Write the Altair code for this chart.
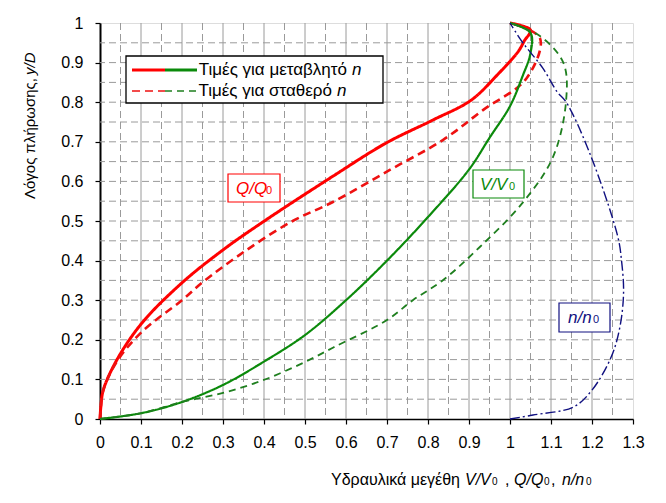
import altair as alt
import pandas as pd

# ---- data ----
q_var_x = [0, 0.002, 0.008, 0.041, 0.102, 0.199, 0.30, 0.398, 0.568, 0.698, 0.812, 0.905, 0.97, 1.02, 1.035, 1.05, 1.0]
q_var_y = [0, 0.03, 0.073, 0.149, 0.242, 0.343, 0.427, 0.498, 0.613, 0.697, 0.755, 0.805, 0.87, 0.928, 0.955, 0.982, 1.0]

q_const_x = [0, 0.002, 0.008, 0.041, 0.102, 0.2, 0.25, 0.358, 0.47, 0.568, 0.707, 0.837, 0.934, 1.04, 1.073, 1.0]
q_const_y = [0, 0.03, 0.073, 0.145, 0.22, 0.30, 0.345, 0.427, 0.50, 0.548, 0.629, 0.705, 0.78, 0.86, 0.962, 1.0]

v_var_x = [0, 0.102, 0.2, 0.3, 0.4, 0.5, 0.6, 0.7, 0.8, 0.9, 0.95, 1.0, 1.03, 1.05, 1.05, 1.0]
v_var_y = [0, 0.015, 0.043, 0.086, 0.145, 0.212, 0.30, 0.40, 0.51, 0.63, 0.71, 0.79, 0.864, 0.924, 0.975, 1.0]

v_const_x = [0, 0.102, 0.2, 0.3, 0.398, 0.5, 0.568, 0.70, 0.763, 0.837, 0.927, 1.03, 1.105, 1.137, 1.13, 1.073, 1.0]
v_const_y = [0, 0.015, 0.043, 0.066, 0.098, 0.144, 0.18, 0.25, 0.30, 0.351, 0.435, 0.545, 0.662, 0.806, 0.9, 0.967, 1.0]

n_x = [1.0, 1.056, 1.154, 1.20, 1.247, 1.268, 1.277, 1.272, 1.263, 1.195, 1.137, 1.115, 1.08, 1.03, 1.0]
n_y = [0, 0.01, 0.03, 0.073, 0.157, 0.232, 0.32, 0.40, 0.46, 0.67, 0.80, 0.826, 0.886, 0.952, 1.0]

x_ticks = [0, 0.1, 0.2, 0.3, 0.4, 0.5, 0.6, 0.7, 0.8, 0.9, 1.0, 1.1, 1.2, 1.3]
y_ticks = [0, 0.1, 0.2, 0.3, 0.4, 0.5, 0.6, 0.7, 0.8, 0.9, 1.0]
x_grid_major = [0.1, 0.2, 0.3, 0.4, 0.5, 0.6, 0.7, 0.8, 0.9, 1.0, 1.1, 1.2]
x_grid_minor = [0.05, 0.15, 0.25, 0.35, 0.45, 0.55, 0.65, 0.75, 0.85, 0.95, 1.05, 1.15, 1.25]
y_grid = [0.05, 0.1, 0.15, 0.2, 0.25, 0.3, 0.35, 0.4, 0.45, 0.5, 0.55, 0.6, 0.65, 0.7, 0.75, 0.8, 0.85, 0.9, 0.95]

series_names = ["Q_var", "Q_const", "V_var", "V_const", "n"]
series_colors = ["#ff0000", "#ee1111", "#0b8a0b", "#1f7f1f", "#101080"]
series_dash = [[1, 0], [8, 5], [1, 0], [7, 5], [10, 3, 2, 3]]
series_width = [3, 1.4, 3, 1.4, 1.4]

FONT = "Liberation Sans"
W, H = 533, 396

rows = []
for name, xs_, ys_ in zip(series_names,
                          [q_var_x, q_const_x, v_var_x, v_const_x, n_x],
                          [q_var_y, q_const_y, v_var_y, v_const_y, n_y]):
    for i, (x, y) in enumerate(zip(xs_, ys_)):
        rows.append({"series": name, "x": x, "y": y, "i": i})
df = pd.DataFrame(rows)

xs = alt.Scale(domain=[0, 1.3], nice=False, zero=False)
ys = alt.Scale(domain=[0, 1], nice=False, zero=False)

x_axis = alt.Axis(values=x_ticks, format="~g", grid=False, title=None, tickSize=5,
                  labelFontSize=16, labelFont=FONT, labelColor="black", labelPadding=10,
                  domainColor="black", domainWidth=1.5, tickColor="black", tickWidth=1.2,
                  labelFlush=False, labelOverlap=False)
y_axis = alt.Axis(values=y_ticks, format="~g", grid=False, title=None, tickSize=5,
                  labelFontSize=16, labelFont=FONT, labelColor="black", labelPadding=12,
                  domainColor="black", domainWidth=2, tickColor="black", tickWidth=1.2,
                  labelFlush=False, labelOverlap=False)

# grid
vmaj = alt.Chart(pd.DataFrame({"g": x_grid_major})).mark_rule(color="#9a9a9a", strokeWidth=1).encode(
    x=alt.X("g:Q", scale=xs, axis=x_axis))
vmin = alt.Chart(pd.DataFrame({"g": x_grid_minor})).mark_rule(color="#9a9a9a", strokeWidth=1, strokeDash=[7, 4]).encode(
    x=alt.X("g:Q", scale=xs, axis=x_axis))
hgrid = alt.Chart(pd.DataFrame({"g": y_grid})).mark_rule(color="#9a9a9a", strokeWidth=1, strokeDash=[7, 4]).encode(
    y=alt.Y("g:Q", scale=ys, axis=y_axis))

lines = alt.Chart(df).mark_line(strokeJoin="round", interpolate="catmull-rom").encode(
    x=alt.X("x:Q", scale=xs, axis=x_axis),
    y=alt.Y("y:Q", scale=ys, axis=y_axis),
    order="i:Q",
    color=alt.Color("series:N", scale=alt.Scale(domain=series_names, range=series_colors), legend=None),
    strokeDash=alt.StrokeDash("series:N", scale=alt.Scale(domain=series_names, range=series_dash), legend=None),
    strokeWidth=alt.StrokeWidth("series:N", scale=alt.Scale(domain=series_names, range=series_width), legend=None),
)

dummy = pd.DataFrame({"a": [0]})


def txt(t, x, y, size=16, color="black", italic=False, align="left", angle=0, baseline="alphabetic"):
    kw = dict(text=t, fontSize=size, font=FONT, color=color, align=align, baseline=baseline)
    if italic:
        kw["fontStyle"] = "italic"
    if angle:
        kw["angle"] = angle
    return alt.Chart(dummy).mark_text(**kw).encode(x=alt.value(x), y=alt.value(y))


def box(x1, y1, x2, y2, color, width=1.2):
    return alt.Chart(dummy).mark_rect(fill="white", stroke=color, strokeWidth=width).encode(
        x=alt.value(x1), x2=alt.value(x2), y=alt.value(y1), y2=alt.value(y2))


def seg(x1, x2, y, color, dash=None, width=3):
    kw = dict(color=color, strokeWidth=width)
    if dash:
        kw["strokeDash"] = dash
    return alt.Chart(dummy).mark_rule(**kw).encode(x=alt.value(x1), x2=alt.value(x2), y=alt.value(y))


layers = [vmaj, vmin, hgrid, lines]

# annotation boxes
layers += [
    box(128, 151, 180, 179, "#ff0000"),
    txt("Q/Q", 136, 171, 17, "#ff0000", italic=True),
    txt("0", 166, 171, 11, "#ff0000"),
    box(373, 147, 424, 175, "#0b8a0b"),
    txt("V/V", 380, 167, 17, "#0b8a0b", italic=True),
    txt("0", 409, 167, 11, "#0b8a0b"),
    box(459, 280, 510, 309, "#101080"),
    txt("n/n", 468, 300, 17, "#101080", italic=True),
    txt("0", 493, 300, 11, "#101080"),
]

# legend
layers += [
    box(26, 33, 283, 80, "black", 1.3),
    seg(32, 65, 47, "#ff0000"),
    seg(65, 97, 47, "#0b8a0b"),
    seg(32, 65, 68, "#ee1111", [8, 5], 1.4),
    seg(65, 97, 68, "#1f7f1f", [7, 5], 1.4),
    txt("Τιμές για μεταβλητό", 247, 47, 17, align="right", baseline="middle"),
    txt("n", 252, 47, 17, italic=True, baseline="middle"),
    txt("Τιμές για σταθερό", 232, 68, 17, align="right", baseline="middle"),
    txt("n", 237, 68, 17, italic=True, baseline="middle"),
]

# axis titles
TY = 462
layers += [
    txt("Υδραυλικά μεγέθη", 360, TY, 16, align="right"),
    txt("V/V", 365, TY, 16, italic=True),
    txt("0", 392, TY, 10),
    txt(",", 405, TY, 16),
    txt("Q/Q", 414, TY, 16, italic=True),
    txt("0", 444, TY, 10),
    txt(",", 451, TY, 16),
    txt("n/n", 462, TY, 16, italic=True),
    txt("0", 486, TY, 10),
    txt("Λόγος πλήρωσης,", -70, 55, 15, align="right", angle=270, baseline="middle"),
    txt("y/D", -70, 52, 15, italic=True, align="left", angle=270, baseline="middle"),
]

chart = alt.layer(*layers).properties(
    width=W, height=H,
    autosize=alt.AutoSizeParams(type="none"),
    padding={"left": 92, "top": 15, "right": 25, "bottom": 70},
).configure_view(stroke="black", strokeWidth=1.5).configure(background="white")

chart.save("out.html", embed_options={"renderer": "svg", "actions": False})
